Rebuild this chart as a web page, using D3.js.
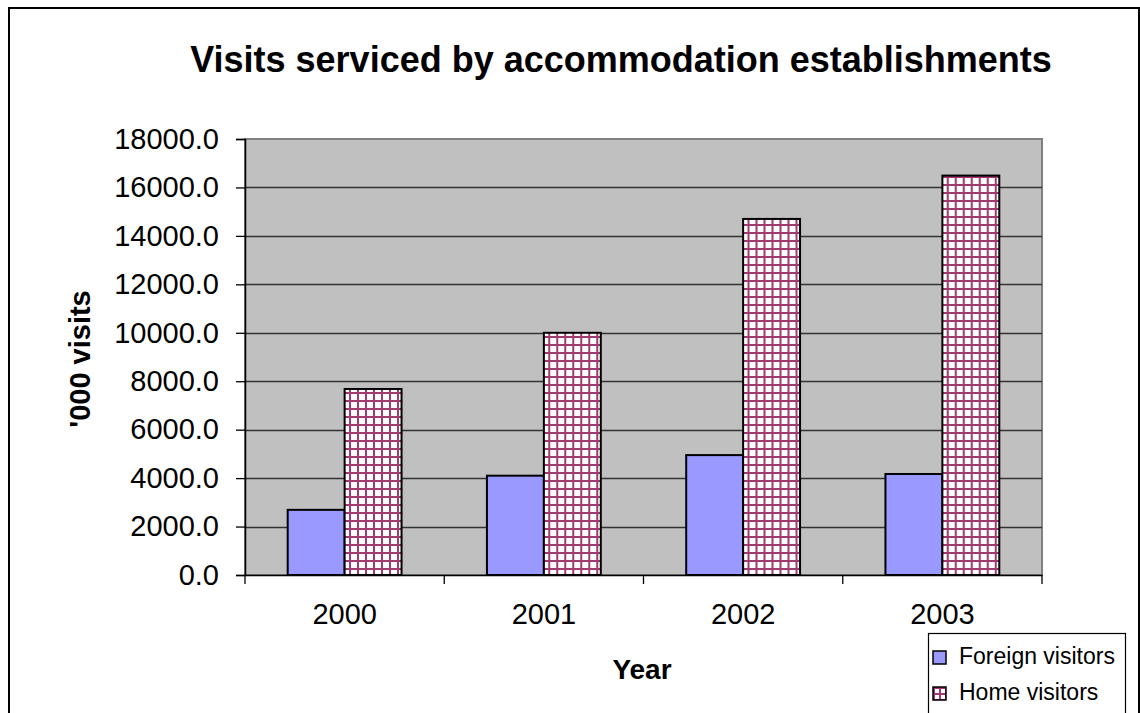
<!DOCTYPE html>
<html><head><meta charset="utf-8">
<script src="https://cdn.jsdelivr.net/npm/d3@7"></script>
<style>html,body{margin:0;padding:0;background:#fff;overflow:hidden}text{font-family:"Liberation Sans",Arial,sans-serif}</style>
</head><body><svg id="c" width="1140" height="713"></svg>
<script>
const years = ["2000","2001","2002","2003"];
const seriesNames = ["Foreign visitors","Home visitors"];
const foreign = [2690, 4100, 4950, 4170];
const home = [7680, 10000, 14700, 16490];
const yTicks = [0,2000,4000,6000,8000,10000,12000,14000,16000,18000];

const svg = d3.select("#c");
const L=245, R=1042, T=139, B=575;

const defs = svg.append("defs");
const pat = defs.append("pattern").attr("id","grid").attr("patternUnits","userSpaceOnUse")
  .attr("width",8).attr("height",8).attr("x",0).attr("y",0);
pat.append("rect").attr("width",8).attr("height",8).attr("fill","#ffffff");
pat.append("rect").attr("x",0).attr("y",0).attr("width",2).attr("height",8).attr("fill","#a03a70");
pat.append("rect").attr("x",0).attr("y",0).attr("width",8).attr("height",2).attr("fill","#a03a70");

// outer border
svg.append("rect").attr("x",9).attr("y",8).attr("width",1130).attr("height",720)
  .attr("fill","#fff").attr("stroke","#000").attr("stroke-width",2);

// title
svg.append("text").attr("x",621).attr("y",72).attr("text-anchor","middle")
  .attr("font-size",36).attr("font-weight","bold").text("Visits serviced by accommodation establishments");

const x = d3.scaleBand().domain(years).range([L,R]).padding(0);
const xs = d3.scaleBand().domain(seriesNames).range([0,x.bandwidth()]).paddingInner(0).paddingOuter(0.75);
const y = d3.scaleLinear().domain([0,18000]).range([B,T]);

// plot area
svg.append("rect").attr("x",L).attr("y",T).attr("width",R-L).attr("height",B-T)
  .attr("fill","#c0c0c0").attr("stroke","#808080").attr("stroke-width",2);

// gridlines
svg.append("g").selectAll("line").data(yTicks.slice(1,-1)).join("line")
  .attr("x1",L).attr("x2",R).attr("y1",d=>Math.round(y(d))+0.5).attr("y2",d=>Math.round(y(d))+0.5)
  .attr("stroke","#333").attr("stroke-width",1.3);

// bars
const data = years.map((yr,i)=>({yr, vals:[{s:seriesNames[0],v:foreign[i]},{s:seriesNames[1],v:home[i]}]}));
const g = svg.append("g").selectAll("g").data(data).join("g").attr("transform",d=>`translate(${x(d.yr)},0)`);
g.selectAll("rect").data(d=>d.vals).join("rect")
  .attr("x",d=>xs(d.s)).attr("width",xs.bandwidth())
  .attr("y",d=>y(d.v)).attr("height",d=>B-y(d.v))
  .attr("fill",d=>d.s===seriesNames[0]?"#9999ff":"url(#grid)")
  .attr("stroke","#000").attr("stroke-width",2);

// y axis
const ya = svg.append("g").attr("transform",`translate(${L},0)`)
  .call(d3.axisLeft(y).tickValues(yTicks).tickFormat(d3.format(".1f")).tickSize(9).tickPadding(17));
ya.select(".domain").attr("stroke","#000").attr("stroke-width",1.5);
ya.selectAll(".tick line").attr("stroke","#000").attr("stroke-width",1.3);
ya.selectAll("text").attr("font-size",29).attr("font-family","Liberation Sans, Arial, sans-serif").attr("fill","#000");

// x axis
const xa = svg.append("g").attr("transform",`translate(0,${B})`)
  .call(d3.axisBottom(x).tickSize(0).tickPadding(28));
xa.select(".domain").attr("stroke","#000").attr("stroke-width",1.5);
xa.selectAll("text").attr("font-size",29).attr("font-family","Liberation Sans, Arial, sans-serif").attr("fill","#000");
svg.append("g").selectAll("line").data(d3.range(years.length+1)).join("line")
  .attr("x1",i=>L+i*x.step()).attr("x2",i=>L+i*x.step()).attr("y1",B).attr("y2",B+9)
  .attr("stroke","#000").attr("stroke-width",1.3);

// axis titles
svg.append("text").attr("x",642).attr("y",679).attr("text-anchor","middle")
  .attr("font-size",28).attr("font-weight","bold").text("Year");
svg.append("text").attr("transform","translate(90,359) rotate(-90)").attr("text-anchor","middle")
  .attr("font-size",29).attr("font-weight","bold").text("'000 visits");

// legend
svg.append("rect").attr("x",928.5).attr("y",633.5).attr("width",197).attr("height",100)
  .attr("fill","#fff").attr("stroke","#000").attr("stroke-width",1.2);
const lg = svg.append("g").selectAll("g").data(seriesNames).join("g")
  .attr("transform",(d,i)=>`translate(933,${651+i*36})`);
lg.append("rect").attr("width",13).attr("height",13)
  .attr("fill",(d,i)=>i===0?"#9999ff":"url(#lgrid)").attr("stroke","#000").attr("stroke-width",1.5);
lg.append("text").attr("x",26).attr("y",13).attr("font-size",23).text(d=>d);
const lp = defs.append("pattern").attr("id","lgrid").attr("patternUnits","userSpaceOnUse")
  .attr("width",6).attr("height",6).attr("x",936).attr("y",690);
lp.append("rect").attr("width",6).attr("height",6).attr("fill","#fff");
lp.append("rect").attr("width",2).attr("height",6).attr("fill","#a03a70");
lp.append("rect").attr("width",6).attr("height",2).attr("fill","#a03a70");
</script></body></html>
